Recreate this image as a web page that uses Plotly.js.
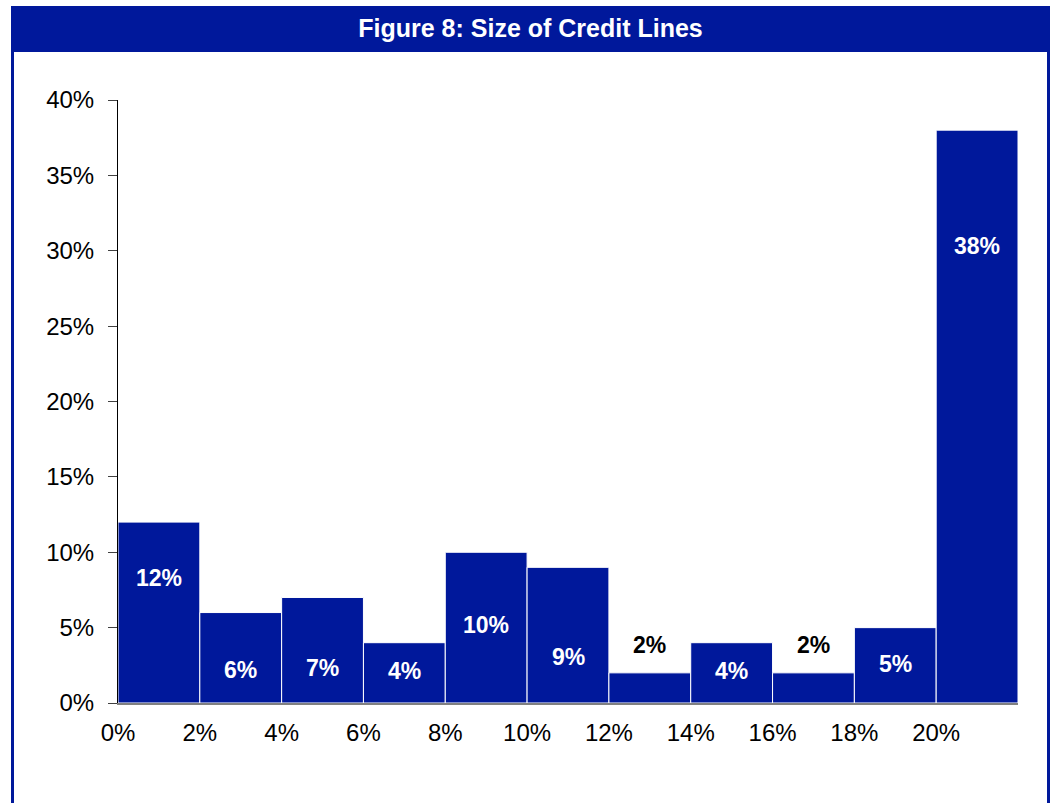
<!DOCTYPE html>
<html>
<head>
<meta charset="utf-8">
<script src="https://cdn.plot.ly/plotly-3.0.1.min.js"></script>
<style>
  html, body { margin: 0; padding: 0; background: #ffffff; }
  #chart { width: 1056px; height: 803px; }
</style>
</head>
<body>
<div id="chart"></div>
<script>
// ---- Data ----
var binStarts = [0, 2, 4, 6, 8, 10, 12, 14, 16, 18, 20];   // credit line size bins (%)
var binWidth = 2;
var shares = [12, 6, 7, 4, 10, 9, 2, 4, 2, 5, 38];            // share of firms (%)
var xTickVals = [0, 2, 4, 6, 8, 10, 12, 14, 16, 18, 20];
var xTickText = ['0%', '2%', '4%', '6%', '8%', '10%', '12%', '14%', '16%', '18%', '20%'];
var yTickVals = [0, 5, 10, 15, 20, 25, 30, 35, 40];
var yTickText = ['0%', '5%', '10%', '15%', '20%', '25%', '30%', '35%', '40%'];
var titleText = 'Figure 8: Size of Credit Lines';

// ---- Label placement (pixel shift from bar top; styling only) ----
var labelShift = [-56, -57, -71, -28, -73, -90, 28, -28, 28, -36, -116];

var blue = '#00189B';
var fontFamily = 'Liberation Sans, Arial, sans-serif';

var trace = {
  type: 'bar',
  x: binStarts,
  y: shares,
  width: binWidth,
  offset: 0,
  marker: { color: blue, line: { color: '#ffffff', width: 1 } },
  hoverinfo: 'x+y'
};

var annotations = shares.map(function (v, i) {
  var outside = labelShift[i] > 0;
  return {
    x: binStarts[i] + binWidth / 2,
    y: v,
    xref: 'x', yref: 'y',
    text: '<b>' + v + '%</b>',
    showarrow: false,
    yanchor: 'middle',
    yshift: labelShift[i],
    font: { family: fontFamily, size: 23, color: outside ? '#000000' : '#ffffff' }
  };
});

// plot area: x 118..1018 px, y 100..703 px
var L = 118, R = 1018, T = 100, B = 703;
function px(x) { return (x - L) / (R - L); }
function py(y) { return (B - y) / (B - T); }

var shapes = [
  { type: 'rect', xref: 'paper', yref: 'paper', x0: px(11), x1: px(1050), y0: py(52), y1: py(6),
    fillcolor: blue, line: { width: 0 }, layer: 'below' },
  { type: 'rect', xref: 'paper', yref: 'paper', x0: px(11), x1: px(14), y0: py(803), y1: py(52),
    fillcolor: blue, line: { width: 0 }, layer: 'below' },
  { type: 'rect', xref: 'paper', yref: 'paper', x0: px(1047), x1: px(1050), y0: py(803), y1: py(52),
    fillcolor: blue, line: { width: 0 }, layer: 'below' }
];

var layout = {
  width: 1056,
  height: 803,
  margin: { l: L, r: 1056 - R, t: T, b: 803 - B, pad: 0 },
  paper_bgcolor: '#ffffff',
  plot_bgcolor: '#ffffff',
  showlegend: false,
  bargap: 0,
  title: {
    text: '<b>' + titleText + '</b>',
    x: 530.5 / 1056, xanchor: 'center',
    y: 1 - 28 / 803, yanchor: 'middle',
    xref: 'container', yref: 'container',
    font: { family: fontFamily, size: 25, color: '#ffffff' }
  },
  xaxis: {
    range: [0, 22],
    tickmode: 'array',
    tickvals: xTickVals,
    ticktext: xTickText,
    ticks: '',
    showgrid: false,
    zeroline: false,
    showline: true,
    linecolor: '#808080',
    linewidth: 2,
    ticklabelstandoff: 7,
    tickfont: { family: fontFamily, size: 24, color: '#000000' },
    fixedrange: true
  },
  yaxis: {
    range: [0, 40],
    tickmode: 'array',
    tickvals: yTickVals,
    ticktext: yTickText,
    ticks: 'outside',
    ticklen: 9,
    tickcolor: '#404040',
    tickwidth: 1,
    showgrid: false,
    zeroline: false,
    showline: true,
    linecolor: '#000000',
    linewidth: 1,
    ticklabelstandoff: 9,
    tickfont: { family: fontFamily, size: 24, color: '#000000' },
    fixedrange: true
  },
  shapes: shapes,
  annotations: annotations
};

Plotly.newPlot('chart', [trace], layout, { displayModeBar: false, staticPlot: true });
</script>
</body>
</html>
